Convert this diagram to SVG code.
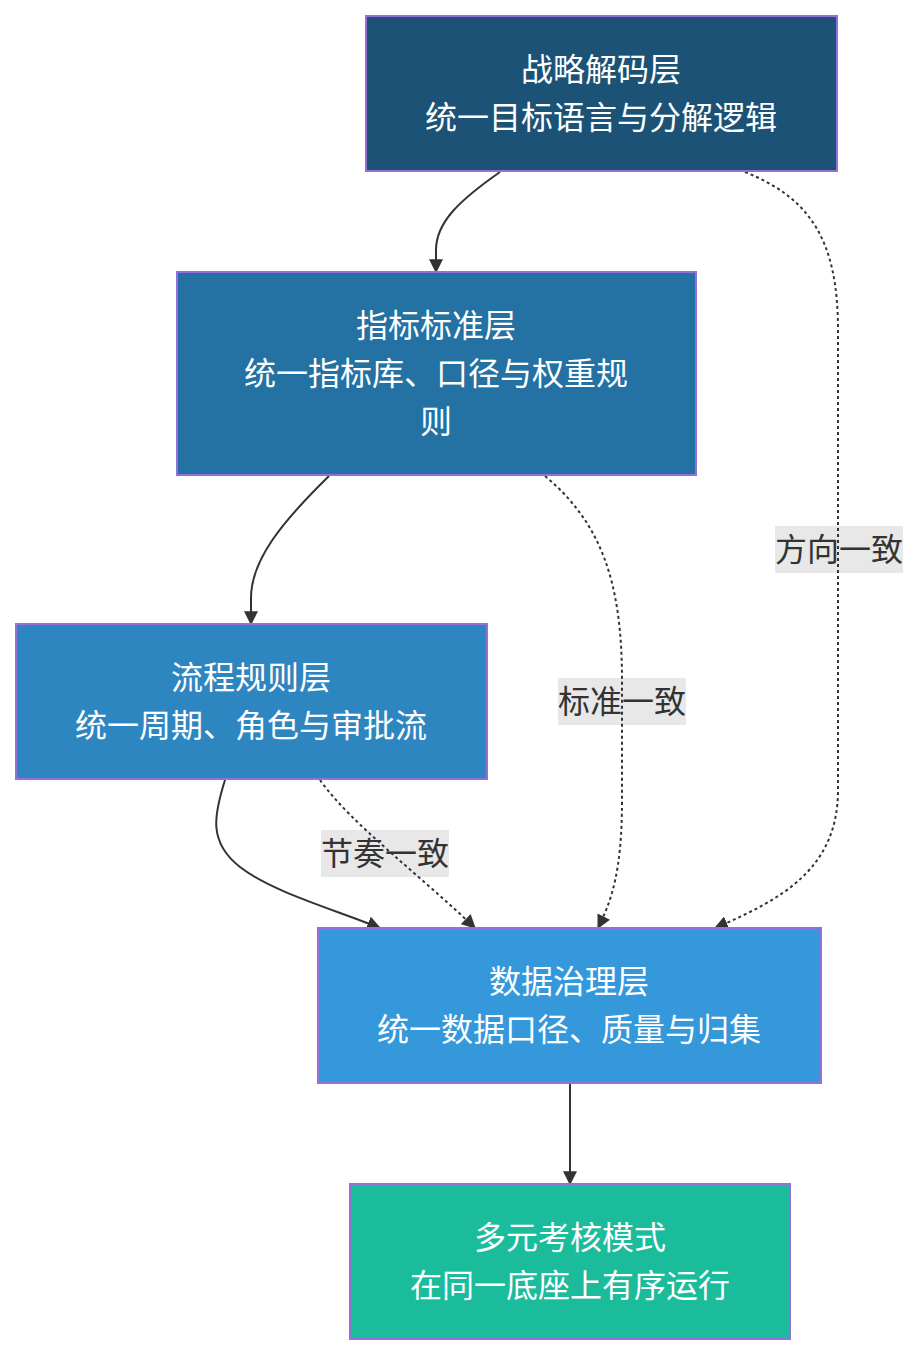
<svg xmlns="http://www.w3.org/2000/svg" width="919" height="1356" viewBox="0 0 919 1356">
<style>
.node rect{stroke:#9370DB;stroke-width:2}
.nt{font-family:"Noto Sans CJK SC","Liberation Sans",sans-serif;font-size:32px;fill:#ffffff;text-anchor:middle}
.lb rect{fill:#e8e8e8}
.lt{font-family:"Noto Sans CJK SC","Liberation Sans",sans-serif;font-size:32px;fill:#333333;text-anchor:middle}
.e{fill:none;stroke:#333333;stroke-width:2}
.d{stroke-dasharray:3 3}
</style>
<defs>
<marker id="ah" viewBox="0 0 12 12" refX="11" refY="6" markerWidth="14" markerHeight="14" markerUnits="userSpaceOnUse" orient="auto">
<path d="M0,0 L12,6 L0,12 z" fill="#333333"/>
</marker>
</defs>
<rect width="919" height="1356" fill="#ffffff"/>
<g id="edge-labels">
<g class="lb" id="label-fangxiang"><rect x="775" y="526" width="128" height="47"/><text class="lt" x="839" y="561">方向一致</text></g>
<g class="lb" id="label-biaozhun"><rect x="558" y="678" width="128" height="47"/><text class="lt" x="622" y="713">标准一致</text></g>
<g class="lb" id="label-jiezou"><rect x="321" y="830" width="128" height="47"/><text class="lt" x="385" y="865">节奏一致</text></g>
</g>
<g id="connectors">
<path class="e" d="M500,172 C460,200 436,222 436,250 L436,272" marker-end="url(#ah)"/>
<path class="e d" d="M745,172 C810,198 838,240 838,330 L838,790 C838,870 780,900 715,928" marker-end="url(#ah)"/>
<path class="e" d="M329,476 C282,522 251,560 251,598 L251,624" marker-end="url(#ah)"/>
<path class="e d" d="M545,476 C600,522 622,580 622,680 L622,800 C622,870 612,900 598,928" marker-end="url(#ah)"/>
<path class="e" d="M225,780 C214,815 208,842 240,867 C272,892 336,910 380,928" marker-end="url(#ah)"/>
<path class="e d" d="M320,780 C352,825 420,875 475,928" marker-end="url(#ah)"/>
<path class="e" d="M570,1084 L570,1184" marker-end="url(#ah)"/>
</g>
<g class="node" id="node-strategy"><rect x="366" y="16" width="471" height="155" fill="#1b5276"/><text class="nt" x="601" y="81">战略解码层</text><text class="nt" x="601" y="129">统一目标语言与分解逻辑</text></g>
<g class="node" id="node-indicator"><rect x="177" y="272" width="519" height="203" fill="#2471a3"/><text class="nt" x="436" y="337">指标标准层</text><text class="nt" x="436" y="385">统一指标库、口径与权重规</text><text class="nt" x="436" y="433">则</text></g>
<g class="node" id="node-process"><rect x="16" y="624" width="471" height="155" fill="#2e86c1"/><text class="nt" x="251" y="689">流程规则层</text><text class="nt" x="251" y="737">统一周期、角色与审批流</text></g>
<g class="node" id="node-data"><rect x="318" y="928" width="503" height="155" fill="#3498db"/><text class="nt" x="569" y="993">数据治理层</text><text class="nt" x="569" y="1041">统一数据口径、质量与归集</text></g>
<g class="node" id="node-mode"><rect x="350" y="1184" width="440" height="155" fill="#1abc9c"/><text class="nt" x="570" y="1249">多元考核模式</text><text class="nt" x="570" y="1297">在同一底座上有序运行</text></g>
</svg>
